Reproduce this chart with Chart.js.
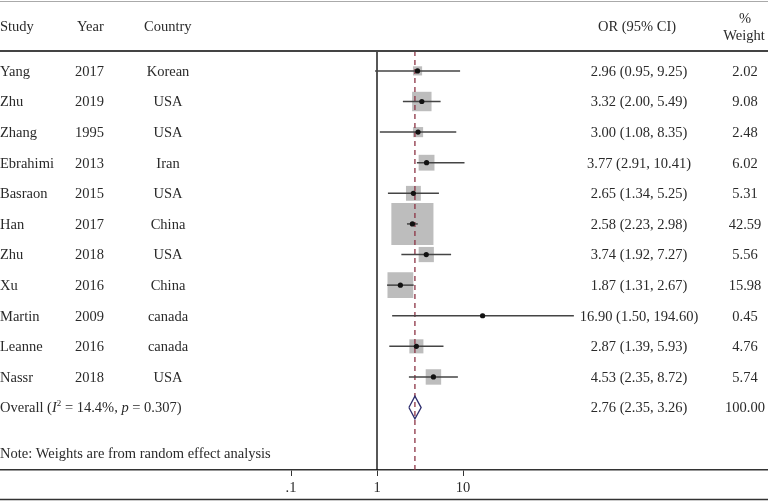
<!DOCTYPE html>
<html>
<head>
<meta charset="utf-8">
<script src="https://cdn.jsdelivr.net/npm/chart.js@4.4.1/dist/chart.umd.min.js"></script>
<style>
  html, body { margin: 0; padding: 0; background: #fff; }
  #wrap { width: 768px; height: 502px; position: relative; }
</style>
</head>
<body>
<div id="wrap"><canvas id="forest"></canvas></div>
<script>
// Datos del forest plot
const studies = ['Yang', 'Zhu', 'Zhang', 'Ebrahimi', 'Basraon', 'Han', 'Zhu', 'Xu', 'Martin', 'Leanne', 'Nassr'];
const years = ['2017', '2019', '1995', '2013', '2015', '2017', '2018', '2016', '2009', '2016', '2018'];
const countries = ['Korean', 'USA', 'USA', 'Iran', 'USA', 'China', 'USA', 'China', 'canada', 'canada', 'USA'];
const oddsRatios = [2.96, 3.32, 3.00, 3.77, 2.65, 2.58, 3.74, 1.87, 16.90, 2.87, 4.53];
const ciLower = [0.95, 2.00, 1.08, 2.91, 1.34, 2.23, 1.92, 1.31, 1.50, 1.39, 2.35];
const ciUpper = [9.25, 5.49, 8.35, 10.41, 5.25, 2.98, 7.27, 2.67, 194.60, 5.93, 8.72];
const weights = [2.02, 9.08, 2.48, 6.02, 5.31, 42.59, 5.56, 15.98, 0.45, 4.76, 5.74];
const overallOR = 2.76;
const overallCI = [2.35, 3.26];
const overallWeight = 100.00;
const overallI2 = 14.4;
const overallP = 0.307;
const xTicks = [0.1, 1, 10];

// Layout (pixeles)
const FONT = '"Liberation Serif", "Times New Roman", serif';
const FS = 14.5;
const ONE_AT = 377;      // donde cae OR = 1
const DECADE_PX = 86;    // ancho de una decada
const W = 768;
const Y_TOP = -0.65, Y_BOTTOM = 13.04;
const OVERALL_ROW = studies.length;
const NOTE_ROW = 12.48, HEADER_ROW = -1.54;
const DIAMOND_HALF = 0.37;

const fmt = v => v.toFixed(2);
const squareRadius = w => 6.45 * Math.sqrt(w) / Math.SQRT2;

const ciSets = studies.map((s, i) => ({
    data: [{ x: ciLower[i], y: i }, { x: ciUpper[i], y: i }],
    showLine: true, borderColor: '#444', borderWidth: 1.5, pointRadius: 0, order: 2
}));

const textPlugin = {
    id: 'forestText',
    afterDraw(chart) {
        const ctx = chart.ctx;
        const y = chart.scales.y;
        const area = chart.chartArea;
        ctx.save();

        // lineas horizontales
        ctx.strokeStyle = '#aaa'; ctx.lineWidth = 1;
        ctx.beginPath(); ctx.moveTo(0, 1.5); ctx.lineTo(W, 1.5); ctx.stroke();
        ctx.strokeStyle = '#444'; ctx.lineWidth = 2;
        ctx.beginPath(); ctx.moveTo(0, area.top); ctx.lineTo(W, area.top); ctx.stroke();
        ctx.strokeStyle = '#333'; ctx.lineWidth = 1.5;
        ctx.beginPath(); ctx.moveTo(0, chart.height - 2.5); ctx.lineTo(W, chart.height - 2.5); ctx.stroke();

        ctx.fillStyle = '#2a2a2a';
        ctx.textBaseline = 'middle';
        ctx.font = FS + 'px ' + FONT;

        const put = (txt, x, yy, align) => { ctx.textAlign = align || 'left'; ctx.fillText(txt, x, yy + 1); };

        // encabezado
        const hy = y.getPixelForValue(HEADER_ROW) + 2;
        put('Study', 0, hy);
        put('Year', 77, hy);
        put('Country', 144, hy);
        put('OR (95% CI)', 598, hy);
        put('%', 745, hy - 8, 'center');
        put('Weight', 744, hy + 9, 'center');

        // filas
        studies.forEach((s, i) => {
            const py = y.getPixelForValue(i);
            put(s, 0, py);
            put(years[i], 75, py);
            put(countries[i], 168, py, 'center');
            put(`${fmt(oddsRatios[i])} (${fmt(ciLower[i])}, ${fmt(ciUpper[i])})`, 639, py, 'center');
            put(fmt(weights[i]), 745, py, 'center');
        });

        // fila overall con cursivas
        const oy = y.getPixelForValue(OVERALL_ROW) + 1;
        let x = 0;
        const seg = (txt, font, dy) => {
            ctx.font = font; ctx.textAlign = 'left';
            ctx.fillText(txt, x, oy + (dy || 0));
            x += ctx.measureText(txt).width;
        };
        seg('Overall (', FS + 'px ' + FONT);
        seg('I', 'italic ' + FS + 'px ' + FONT);
        seg('2', '9px ' + FONT, -5);
        seg(` = ${overallI2}%, `, FS + 'px ' + FONT);
        seg('p', 'italic ' + FS + 'px ' + FONT);
        seg(` = ${overallP})`, FS + 'px ' + FONT);
        ctx.font = FS + 'px ' + FONT;
        put(`${fmt(overallOR)} (${fmt(overallCI[0])}, ${fmt(overallCI[1])})`, 639, oy - 1, 'center');
        put(fmt(overallWeight), 745, oy - 1, 'center');

        put('Note: Weights are from random effect analysis', 0, y.getPixelForValue(NOTE_ROW));
        ctx.restore();
    }
};

new Chart(document.getElementById('forest'), {
    type: 'scatter',
    data: {
        datasets: [
            {
                data: oddsRatios.map((v, i) => ({ x: v, y: i })),
                pointStyle: 'rect',
                pointRadius: c => squareRadius(weights[c.dataIndex]),
                backgroundColor: '#bdbdbd', borderWidth: 0, order: 5
            },
            {
                data: [{ x: overallOR, y: Y_TOP }, { x: overallOR, y: Y_BOTTOM }],
                showLine: true, borderColor: '#8c3344', borderWidth: 1.3, borderDash: [5, 4],
                pointRadius: 0, order: 4
            },
            {
                data: [{ x: 1, y: Y_TOP }, { x: 1, y: Y_BOTTOM }],
                showLine: true, borderColor: '#111', borderWidth: 1.4, pointRadius: 0, order: 3
            },
            ...ciSets,
            {
                data: oddsRatios.map((v, i) => ({ x: v, y: i })),
                pointStyle: 'circle', pointRadius: 2.6,
                backgroundColor: '#111', borderWidth: 0, order: 1
            },
            {
                data: [
                    { x: overallCI[0], y: OVERALL_ROW },
                    { x: overallOR, y: OVERALL_ROW - DIAMOND_HALF },
                    { x: overallCI[1], y: OVERALL_ROW },
                    { x: overallOR, y: OVERALL_ROW + DIAMOND_HALF },
                    { x: overallCI[0], y: OVERALL_ROW }
                ],
                showLine: true, borderColor: '#2e2e6e', borderWidth: 1.3, pointRadius: 0,
                fill: false, order: 0
            }
        ]
    },
    options: {
        responsive: true,
        maintainAspectRatio: false,
        animation: false,
        events: [],
        layout: { autoPadding: false, padding: { top: 51, left: 0, right: 0, bottom: 0 } },
        plugins: { legend: { display: false }, tooltip: { enabled: false } },
        scales: {
            x: {
                type: 'logarithmic',
                position: 'bottom',
                min: Math.pow(10, -ONE_AT / DECADE_PX),
                max: Math.pow(10, (W - ONE_AT) / DECADE_PX),
                afterBuildTicks: s => { s.ticks = xTicks.map(v => ({ value: v })); },
                afterFit: s => { s.height = 32; },
                ticks: {
                    autoSkip: false, maxRotation: 0, padding: 3, color: '#2a2a2a',
                    font: { family: FONT, size: FS },
                    callback: v => v < 1 ? String(v).replace(/^0/, '') : String(v)
                },
                grid: { drawOnChartArea: false, drawTicks: true, tickLength: 6, color: '#333', lineWidth: 1 },
                border: { display: true, color: '#333', width: 1.5 }
            },
            y: {
                type: 'linear', reverse: true, min: Y_TOP, max: Y_BOTTOM, display: false
            }
        }
    },
    plugins: [textPlugin]
});
</script>
</body>
</html>
